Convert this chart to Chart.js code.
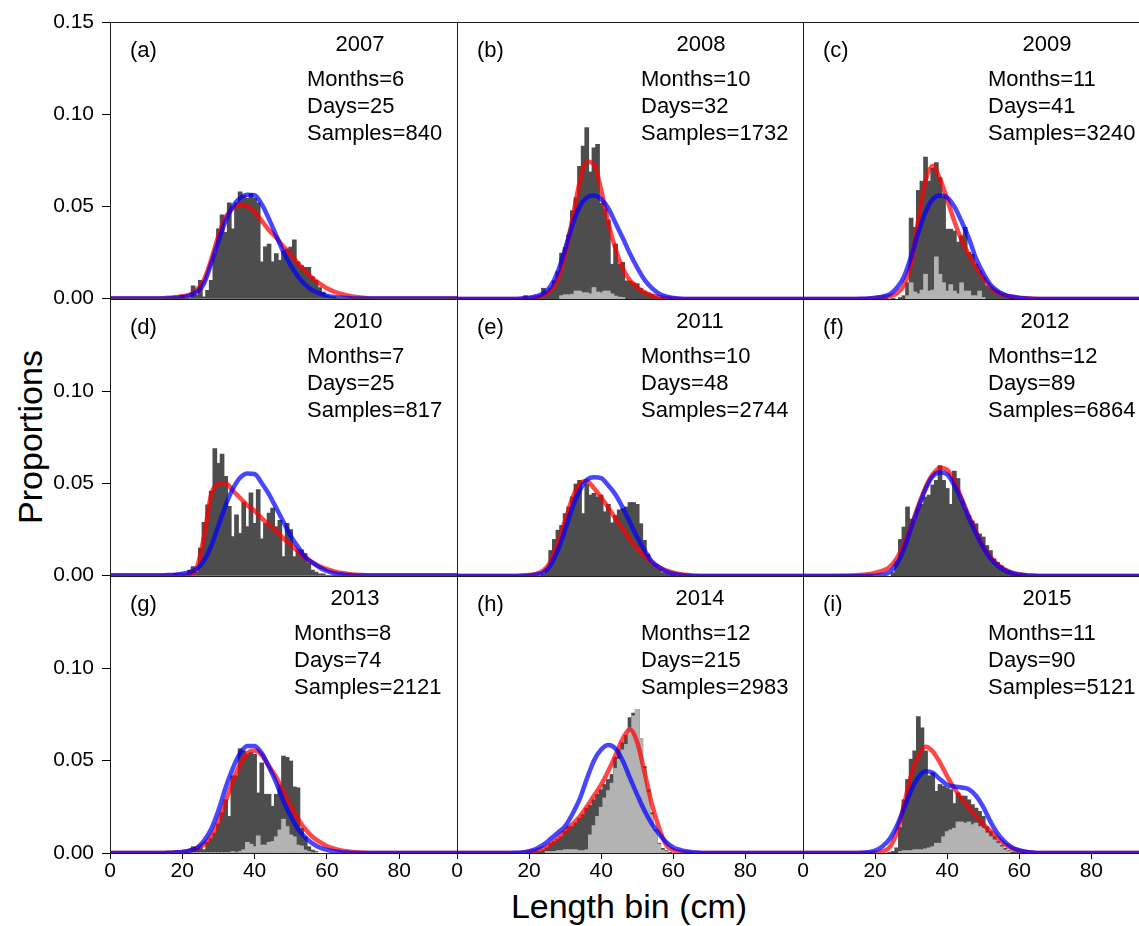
<!DOCTYPE html>
<html><head><meta charset="utf-8">
<script src="https://cdn.jsdelivr.net/npm/chart.js@4.4.0/dist/chart.umd.min.js"></script>
<style>
html,body{margin:0;padding:0;width:1139px;height:926px;overflow:hidden;background:#fff;}
canvas{position:absolute;}
.t{position:absolute;font-family:"Liberation Sans",Arial,sans-serif;color:#000;white-space:nowrap;font-size:34px;line-height:34px;}
</style></head><body>
<div id="xt" class="t">Length bin (cm)</div>
<div id="yt" class="t">Proportions</div>
<script>
// ---------- data ----------
const bins = [16,17,18,19,20,21,22,23,24,25,26,27,28,29,30,31,32,33,34,35,36,37,38,39,40,41,42,43,44,45,46,47,48,49,50,51,52,53,54,55,56,57,58,59,60,61,62,63];
const curveX = [0,14,16,18,20,22,24,26,28,30,32,34,36,38,40,42,44,46,48,50,52,54,56,58,60,62,64,66,68,70,72,96];
const xTicks = [0,20,40,60,80];
const yTicksTop = [0,0.05,0.10,0.15];
const yTicks = [0,0.05,0.10];

const years = ['2007','2008','2009','2010','2011','2012','2013','2014','2015'];
const letters = ['(a)','(b)','(c)','(d)','(e)','(f)','(g)','(h)','(i)'];
const months = [6,10,11,7,10,12,8,12,11];
const days = [25,32,41,25,48,89,74,215,90];
const samples = [840,1732,3240,817,2744,6864,2121,2983,5121];

const dark2007 = [0,0,0,0,0.002,0,0,0.007,0.002,0.010,0.001,0.0045,
  0.010,0.0245,0.038,0.0455,0.036,0.052,0.038,0.052,0.058,0.056,0.0545,0.057,
  0.0545,0.052,0.020,0.0282,0.0296,0.020,0.0245,0.0209,0.026,0.027,0.028,0.032,
  0.020,0.018,0.017,0.017,0.012,0.010,0.006,0.0036,0.0018,0.001,0.001,0];
const dark2008 = [0,0,0,0.002,0,0,0.001,0.002,0.006,0.004,0.006,0.010,
  0.015,0.025,0.028,0.035,0.048,0.055,0.072,0.083,0.093,0.069,0.082,0.084,
  0.052,0.049,0.043,0.019,0.030,0.019,0.020,0.010,0.010,0.009,0.0085,0.006,
  0.0045,0.0036,0.0027,0.0018,0.001,0.001,0,0.0005,0,0,0,0];
const light2008 = [0,0,0,0,0,0,0,0,0,0,0,0,
  0,0.002,0.0025,0.0025,0.0028,0.0045,0.0045,0.0036,0.0036,0.003,0.0064,0.004,
  0.0036,0.0045,0.0045,0.003,0.0018,0.0012,0.001,0,0,0,0,0,
  0,0,0,0,0,0,0,0,0,0,0,0];
const dark2009 = [0,0.0003,0,0,0,0,0,0.0005,0,0.0005,0,0.001,
  0.002,0.009,0.044,0.039,0.059,0.064,0.077,0.064,0.071,0.074,0.066,0.0555,
  0.038,0.038,0.037,0.031,0.0345,0.039,0.0255,0.0245,0.019,0.0155,0.012,0.0073,
  0.0064,0.0055,0.0045,0.0027,0.0018,0.001,0.0005,0,0,0,0,0];
const light2009 = [0,0,0,0,0,0,0,0,0,0,0,0,
  0,0.002,0.009,0.004,0.003,0.005,0.0136,0.0045,0.005,0.023,0.0136,0.009,
  0.0045,0.008,0.0045,0.003,0.009,0.0045,0.0045,0.002,0.002,0.0045,0.001,0,
  0,0,0,0,0,0,0,0,0,0,0,0];
const dark2010 = [0,0,0.0013,0,0,0,0.003,0.005,0.002,0.015,0.029,0.0385,
  0.046,0.069,0.061,0.066,0.054,0.0376,0.0213,0.033,0.023,0.040,0.0267,0.045,
  0.0285,0.0467,0.020,0.0285,0.034,0.0367,0.0267,0.030,0.0104,0.0285,0.025,0.0104,
  0.014,0.014,0.012,0.0067,0.003,0.002,0.001,0.001,0,0,0,0];
const dark2011 = [0,0,0,0,0,0,0,0,0.001,0.004,0.014,0.020,
  0.025,0.0276,0.034,0.0376,0.043,0.050,0.052,0.034,0.050,0.044,0.045,0.043,
  0.044,0.035,0.039,0.029,0.033,0.036,0.0367,0.0376,0.040,0.040,0.039,0.0285,
  0.0195,0.012,0.0067,0.0058,0.004,0.002,0.0015,0.001,0.0005,0,0,0];
const dark2012 = [0,0,0,0,0,0,0,0,0,0.002,0.008,0.020,
  0.0267,0.0376,0.031,0.030,0.0367,0.039,0.043,0.044,0.0495,0.052,0.060,0.052,
  0.0476,0.039,0.057,0.053,0.041,0.036,0.033,0.030,0.0285,0.023,0.0213,0.0167,
  0.014,0.0095,0.0076,0.0058,0.004,0.003,0.002,0.0013,0.0008,0.0005,0,0];
const dark2013 = [0,0,0,0,0,0.0005,0,0.0036,0.0027,0.003,0.002,0.006,
  0.008,0.011,0.016,0.022,0.029,0.020,0.042,0.042,0.0567,0.0555,0.0536,0.0545,
  0.0536,0.0327,0.049,0.032,0.032,0.0255,0.032,0.037,0.0527,0.052,0.050,0.036,
  0.0355,0.0136,0.009,0.0036,0.0018,0.001,0,0,0,0,0,0];
const light2013 = [0,0,0,0,0,0,0,0,0,0,0,0,
  0,0,0,0,0,0,0.001,0,0.001,0.002,0.006,0.005,
  0.0036,0.0095,0.0045,0.0045,0.006,0.0064,0.009,0.0127,0.0185,0.0145,0.010,0.009,
  0.0045,0.004,0.0018,0.001,0,0,0,0,0,0,0,0];
const dark2014 = [0,0,0,0,0,0,0.001,0.001,0.0018,0.003,0.0055,0.0064,
  0.0076,0.009,0.012,0.0145,0.0145,0.0164,0.019,0.021,0.0245,0.026,0.029,0.032,
  0.0345,0.0373,0.040,0.0427,0.052,0.056,0.060,0.064,0.0735,0.076,0.078,0.062,
  0.047,0.0345,0.022,0.0127,0.0055,0.0027,0.0015,0.0005,0,0,0,0];
const light2014 = [0,0,0,0,0,0,0,0,0,0.001,0.001,0.001,
  0.0015,0.0015,0.002,0.002,0.002,0.002,0.0015,0.0015,0.002,0.010,0.015,0.020,
  0.025,0.030,0.034,0.038,0.046,0.051,0.056,0.059,0.068,0.0745,0.078,0.062,
  0.046,0.033,0.021,0.012,0.005,0.0018,0.001,0,0,0,0,0];
const dark2015 = [0,0,0,0,0,0,0,0,0.0005,0.001,0.003,0.014,
  0.029,0.040,0.051,0.0555,0.074,0.068,0.0555,0.042,0.0436,0.0336,0.0373,0.0364,
  0.0355,0.0345,0.027,0.0327,0.031,0.031,0.029,0.0264,0.0245,0.0227,0.020,0.0145,
  0.0118,0.009,0.0064,0.0045,0.0027,0.0015,0.0008,0.0005,0,0,0,0];
const light2015 = [0,0,0,0,0,0,0,0,0,0,0,0.001,
  0.0015,0.0015,0.0015,0.002,0.002,0.002,0.0025,0.003,0.0036,0.0055,0.0055,0.009,
  0.0118,0.0127,0.0136,0.017,0.017,0.0164,0.017,0.0155,0.0164,0.0145,0.0136,0.011,
  0.009,0.0073,0.0055,0.0036,0.0018,0.001,0,0,0,0,0,0];

// fitted curves at curveX
const red2007 = [0,0,0.0003,0.0006,0.0012,0.002,0.0045,0.010,0.021,0.034,0.044,0.049,0.051,0.050,0.047,0.042,0.037,0.033,0.028,0.024,0.019,0.015,0.011,0.008,0.0055,0.0037,0.0024,0.0015,0.0008,0.0004,0,0];
const blue2007 = [0,0,0,0.0002,0.0006,0.0015,0.0035,0.008,0.019,0.031,0.042,0.050,0.0545,0.0562,0.056,0.051,0.043,0.034,0.025,0.018,0.012,0.0075,0.0045,0.0027,0.0015,0.0008,0.0004,0.0002,0,0,0,0];
const red2008 = [0,0,0,0,0.0003,0.0008,0.002,0.0048,0.011,0.025,0.043,0.063,0.0745,0.073,0.059,0.041,0.027,0.0165,0.010,0.0062,0.0035,0.002,0.0011,0.0005,0.0002,0,0,0,0,0,0,0];
const blue2008 = [0,0,0,0.0003,0.0007,0.0015,0.003,0.007,0.015,0.027,0.040,0.050,0.055,0.056,0.054,0.049,0.041,0.033,0.0245,0.017,0.0105,0.006,0.003,0.0014,0.0006,0.0002,0,0,0,0,0,0];
const red2009 = [0,0,0,0,0.0003,0.0008,0.0015,0.003,0.0075,0.019,0.043,0.064,0.072,0.065,0.054,0.042,0.032,0.024,0.0175,0.0115,0.0065,0.0035,0.002,0.0012,0.0007,0.0004,0.0002,0,0,0,0,0];
const blue2009 = [0,0,0.0001,0.0003,0.0007,0.0013,0.0025,0.006,0.012,0.023,0.036,0.047,0.054,0.056,0.055,0.050,0.042,0.033,0.022,0.014,0.0078,0.0043,0.0023,0.0012,0.0006,0.0003,0,0,0,0,0,0];
const red2010 = [0,0,0,0,0.0002,0.0007,0.004,0.021,0.044,0.0498,0.050,0.046,0.042,0.038,0.035,0.031,0.0275,0.024,0.020,0.0167,0.013,0.0095,0.007,0.005,0.0034,0.0022,0.0013,0.0008,0.0004,0.0002,0,0];
const blue2010 = [0,0,0.0002,0.0004,0.0009,0.0017,0.0035,0.008,0.016,0.027,0.038,0.047,0.053,0.0553,0.055,0.050,0.044,0.0365,0.029,0.0213,0.0155,0.010,0.007,0.0043,0.0024,0.0012,0.0006,0.0002,0,0,0,0];
const red2011 = [0,0,0,0.0002,0.0005,0.0012,0.003,0.008,0.018,0.030,0.042,0.050,0.0515,0.0475,0.0425,0.037,0.031,0.0255,0.0195,0.015,0.011,0.0075,0.0048,0.003,0.0018,0.001,0.0005,0.0002,0,0,0,0];
const blue2011 = [0,0,0,0.0001,0.0003,0.0008,0.002,0.006,0.014,0.025,0.037,0.046,0.052,0.0535,0.053,0.049,0.044,0.037,0.029,0.021,0.014,0.008,0.0048,0.0024,0.0012,0.0005,0.0002,0,0,0,0,0];
const red2012 = [0,0.0003,0.0006,0.001,0.0017,0.0028,0.0048,0.0095,0.017,0.027,0.038,0.048,0.055,0.0585,0.0575,0.051,0.042,0.0325,0.024,0.016,0.0103,0.0063,0.0035,0.0018,0.0009,0.0004,0.0002,0,0,0,0,0];
const blue2012 = [0,0,0,0.0001,0.0002,0.0007,0.002,0.0065,0.0145,0.026,0.037,0.047,0.054,0.056,0.055,0.049,0.041,0.0315,0.023,0.0155,0.0095,0.0055,0.003,0.0015,0.0007,0.0003,0.0001,0,0,0,0,0];
const red2013 = [0,0,0.0001,0.0003,0.0006,0.0013,0.0025,0.0046,0.009,0.017,0.028,0.039,0.048,0.054,0.0555,0.053,0.047,0.041,0.033,0.0255,0.0185,0.013,0.0088,0.006,0.0038,0.0024,0.0014,0.0008,0.0004,0.0002,0,0];
const blue2013 = [0,0,0.0001,0.0003,0.0006,0.0013,0.0027,0.0066,0.013,0.023,0.0355,0.046,0.054,0.058,0.058,0.054,0.0465,0.038,0.028,0.020,0.013,0.0085,0.0052,0.003,0.0017,0.0009,0.0004,0.0002,0,0,0,0];
const red2014 = [0,0,0,0.0002,0.0006,0.0013,0.0025,0.0047,0.008,0.012,0.0155,0.0195,0.025,0.031,0.037,0.0445,0.053,0.062,0.067,0.060,0.044,0.027,0.014,0.0045,0.0015,0.0005,0.0001,0,0,0,0,0];
const blue2014 = [0,0,0.0001,0.0003,0.001,0.0023,0.0045,0.0077,0.011,0.0145,0.021,0.029,0.040,0.050,0.056,0.0585,0.0565,0.050,0.0405,0.0315,0.023,0.016,0.0105,0.006,0.003,0.0017,0.0008,0.0003,0,0,0,0];
const red2015 = [0,0,0,0,0.0001,0.0008,0.003,0.011,0.026,0.042,0.0525,0.0575,0.055,0.049,0.0415,0.035,0.0295,0.0245,0.020,0.0155,0.0118,0.008,0.0047,0.0025,0.0012,0.0006,0.0002,0,0,0,0,0];
const blue2015 = [0,0,0.0001,0.0004,0.0013,0.0035,0.0075,0.0145,0.024,0.034,0.041,0.0443,0.0435,0.040,0.037,0.036,0.0355,0.0345,0.031,0.025,0.017,0.0105,0.006,0.003,0.0015,0.0006,0.0002,0,0,0,0,0];

const darkSeries = [dark2007,dark2008,dark2009,dark2010,dark2011,dark2012,dark2013,dark2014,dark2015];
const lightSeries = [null,light2008,light2009,null,null,null,light2013,light2014,light2015];
const redSeries = [red2007,red2008,red2009,red2010,red2011,red2012,red2013,red2014,red2015];
const blueSeries = [blue2007,blue2008,blue2009,blue2010,blue2011,blue2012,blue2013,blue2014,blue2015];

// ---------- layout ----------
const colX = [110, 457, 803];
const colW = [347, 346, 346];
const rowY = [22, 299, 576];
const rowH = 277;
const PAD = {left: 20, right: 20, top: 24, bottom: 20};
const YW = 90, XH = 44;
const yearCX = [250,244,244,248,243,242,245,243,244];
const statsX = [197,184,185,197,184,185,184,184,185];
const FONT = '"Liberation Sans", Arial, sans-serif';

const xt = document.getElementById('xt');
xt.style.left = '629px'; xt.style.top = '889px'; xt.style.transform = 'translateX(-50%)';
const yt = document.getElementById('yt');
yt.style.left = '30px'; yt.style.top = '437px'; yt.style.transform = 'translate(-50%,-50%) rotate(-90deg)';

const panelPlugin = {
  id: 'panelDecor',
  afterDatasetsDraw(chart, args, o) {
    const {left, top, right, bottom} = chart.chartArea;
    const ctx = chart.ctx;
    ctx.save();
    ctx.strokeStyle = '#1a1a1a';
    ctx.lineWidth = 1;
    ctx.strokeRect(left + 0.5, top + 0.5, right - left, bottom - top);
    ctx.fillStyle = '#000';
    ctx.font = '22px ' + FONT;
    ctx.textBaseline = 'alphabetic';
    ctx.textAlign = 'left';
    ctx.fillText(o.letter, left + 20, top + 35);
    ctx.textAlign = 'center';
    ctx.fillText(o.year, left + o.yearX, top + 29);
    ctx.textAlign = 'left';
    o.lines.forEach((t, i) => ctx.fillText(t, left + o.statsX, top + 64 + 27 * i));
    ctx.restore();
  }
};

for (let k = 0; k < 9; k++) {
  const r = Math.floor(k / 3), c = k % 3;
  const showY = c === 0, showX = r === 2;
  const w = PAD.left + (showY ? YW : 0) + colW[c] + PAD.right;
  const h = PAD.top + rowH + (showX ? XH : 0) + PAD.bottom;
  const cv = document.createElement('canvas');
  cv.width = w; cv.height = h;
  cv.style.width = w + 'px'; cv.style.height = h + 'px';
  cv.style.left = (colX[c] - PAD.left - (showY ? YW : 0)) + 'px';
  cv.style.top = (rowY[r] - PAD.top) + 'px';
  document.body.appendChild(cv);

  const datasets = [
    {type: 'line', data: curveX.map((x, i) => ({x, y: blueSeries[k][i]})), borderColor: 'rgba(0,0,255,0.72)',
     borderWidth: 4.5, pointRadius: 0, cubicInterpolationMode: 'monotone', fill: false, order: 0},
    {type: 'line', data: curveX.map((x, i) => ({x, y: redSeries[k][i]})), borderColor: 'rgba(255,0,0,0.72)',
     borderWidth: 4.5, pointRadius: 0, cubicInterpolationMode: 'monotone', fill: false, order: 1}
  ];
  if (lightSeries[k]) {
    datasets.push({type: 'bar', data: bins.map((b, i) => ({x: b, y: lightSeries[k][i]})), backgroundColor: '#b3b3b3',
      barPercentage: 1.3, categoryPercentage: 1, grouped: false, borderWidth: 0, inflateAmount: 0, order: 2});
  }
  datasets.push({type: 'bar', data: bins.map((b, i) => ({x: b, y: darkSeries[k][i]})), backgroundColor: '#4d4d4d',
    barPercentage: 1.3, categoryPercentage: 1, grouped: false, borderWidth: 0, inflateAmount: 0, order: 3});

  new Chart(cv, {
    type: 'bar',
    data: {datasets},
    plugins: [panelPlugin],
    options: {
      responsive: false, animation: false, events: [],
      layout: {padding: PAD},
      plugins: {
        legend: {display: false}, tooltip: {enabled: false},
        panelDecor: {letter: letters[k], year: years[k], yearX: yearCX[k], statsX: statsX[k],
          lines: ['Months=' + months[k], 'Days=' + days[k], 'Samples=' + samples[k]]}
      },
      scales: {
        x: {
          type: 'linear', min: 0, max: 96, offset: false, display: showX,
          grid: {display: true, drawOnChartArea: false, drawTicks: true, tickLength: 6, color: '#000', offset: false},
          border: {display: false},
          ticks: {color: '#000', font: {family: FONT, size: 21}, padding: 0, maxRotation: 0, autoSkip: false},
          afterBuildTicks: s => { s.ticks = xTicks.map(v => ({value: v})); },
          afterFit: s => { if (showX) s.height = XH; }
        },
        y: {
          type: 'linear', min: 0, max: 0.15, display: showY,
          grid: {display: true, drawOnChartArea: false, drawTicks: true, tickLength: 8, color: '#000'},
          border: {display: false},
          ticks: {color: '#000', font: {family: FONT, size: 21}, padding: 8, callback: v => Number(v).toFixed(2)},
          afterBuildTicks: s => { s.ticks = (r === 0 ? yTicksTop : yTicks).map(v => ({value: v})); },
          afterFit: s => { if (showY) s.width = YW; }
        }
      }
    }
  });
}
</script>
</body></html>
